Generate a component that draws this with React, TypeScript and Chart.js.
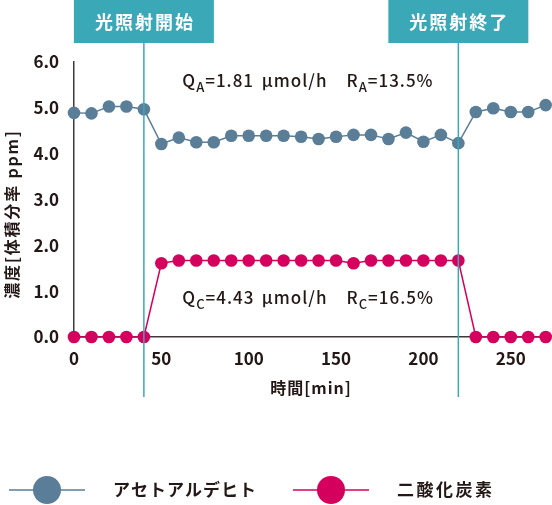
import { useEffect, useRef } from "react";
import { Chart, registerables } from "chart.js";

Chart.register(...registerables);

// time [min]
const times = [0, 10, 20, 30, 40, 50, 60, 70, 80, 90, 100, 110, 120, 130, 140, 150, 160, 170, 180, 190, 200, 210, 220, 230, 240, 250, 260, 270];
// アセトアルデヒト [ppm]
const acetaldehyde = [4.89, 4.88, 5.03, 5.03, 4.97, 4.21, 4.35, 4.25, 4.25, 4.39, 4.39, 4.39, 4.39, 4.37, 4.32, 4.37, 4.41, 4.41, 4.32, 4.46, 4.26, 4.41, 4.23, 4.91, 4.99, 4.91, 4.91, 5.06];
// 二酸化炭素 [ppm]
const co2 = [0, 0, 0, 0, 0, 1.61, 1.67, 1.67, 1.67, 1.67, 1.67, 1.67, 1.67, 1.67, 1.67, 1.67, 1.61, 1.67, 1.67, 1.67, 1.67, 1.67, 1.67, 0, 0, 0, 0, 0];

const seriesNames = ["アセトアルデヒト", "二酸化炭素"];
const xTicks = [0, 50, 100, 150, 200, 250];
const yTicks = [0, 1, 2, 3, 4, 5, 6];

const markerTimes = [40, 220];
const markerLabels = ["光照射開始", "光照射終了"];

// [text, subscript?] pieces, grouped; each group placed at a (time, ppm) position
const notes = [
  { at: [62, 5.45], groups: [[["Q", 0], ["A", 1], ["=1.81", 0]], [["μmol/h", 0]], [["R", 0], ["A", 1], ["=13.5%", 0]]], gx: [62, 107.5, 156] },
  { at: [62, 0.72], groups: [[["Q", 0], ["C", 1], ["=4.43", 0]], [["μmol/h", 0]], [["R", 0], ["C", 1], ["=16.5%", 0]]], gx: [62, 107.5, 156] },
];

const INK = "#231815";
const TEAL = "#3aa8b7";
const JP = "'Noto Sans CJK JP', 'Noto Sans', sans-serif";

const overlay = {
  id: "overlay",
  afterDatasetsDraw(chart: any) {
    const { ctx, scales } = chart;
    const x = scales.x;
    const y = scales.y;
    ctx.save();

    // irradiation markers
    markerTimes.forEach((t, i) => {
      const px = x.getPixelForValue(t);
      ctx.strokeStyle = TEAL;
      ctx.lineWidth = 1.5;
      ctx.beginPath();
      ctx.moveTo(px, 40);
      ctx.lineTo(px, 397);
      ctx.stroke();
      ctx.fillStyle = TEAL;
      ctx.fillRect(px - 70, 0, 140, 43);
      ctx.fillStyle = "#fff";
      ctx.font = `700 18px ${JP}`;
      (ctx as any).letterSpacing = "2px";
      ctx.textAlign = "left";
      ctx.textBaseline = "middle";
      const w = ctx.measureText(markerLabels[i]).width - 2;
      ctx.fillText(markerLabels[i], px - w / 2, 22);
    });
    (ctx as any).letterSpacing = "0px";

    // rate notes
    ctx.fillStyle = INK;
    ctx.textAlign = "left";
    ctx.textBaseline = "alphabetic";
    notes.forEach((n) => {
      const base = y.getPixelForValue(n.at[1]);
      n.groups.forEach((g, gi) => {
        let cx = x.getPixelForValue(n.gx[gi]);
        g.forEach(([txt, sub]) => {
          ctx.font = sub ? `500 13px ${JP}` : `500 17px ${JP}`;
          (ctx as any).letterSpacing = "1px";
          ctx.fillText(txt as string, cx, base + (sub ? 5 : 0));
          cx += ctx.measureText(txt as string).width;
        });
      });
    });

    // axis titles
    ctx.font = `700 16px ${JP}`;
    ctx.textAlign = "left";
    ctx.textBaseline = "middle";
    (ctx as any).letterSpacing = "1px";
    const xt = "時間[min]";
    ctx.fillText(xt, 311 - ctx.measureText(xt).width / 2, 388);
    (ctx as any).letterSpacing = "1.8px";
    const yt = "濃度[体積分率 ppm]";
    const yw = ctx.measureText(yt).width;
    ctx.save();
    ctx.translate(12, 214);
    ctx.rotate(-Math.PI / 2);
    ctx.fillText(yt, -yw / 2, 0);
    ctx.restore();

    // legend
    const items = [
      { x0: 9, x1: 85, cx: 47, tx: 113, ls: "1px" },
      { x0: 293, x1: 369, cx: 331, tx: 397, ls: "2.5px" },
    ];
    chart.data.datasets.forEach((ds: any, i: number) => {
      const it = items[i];
      const ly = 490;
      ctx.strokeStyle = ds.borderColor;
      ctx.lineWidth = 1.5;
      ctx.beginPath();
      ctx.moveTo(it.x0, ly);
      ctx.lineTo(it.x1, ly);
      ctx.stroke();
      ctx.fillStyle = ds.pointBackgroundColor;
      ctx.beginPath();
      ctx.arc(it.cx, ly, 14, 0, Math.PI * 2);
      ctx.fill();
      ctx.fillStyle = INK;
      ctx.font = `700 17px ${JP}`;
      (ctx as any).letterSpacing = it.ls;
      ctx.textAlign = "left";
      ctx.fillText(ds.label, it.tx, ly);
    });
    (ctx as any).letterSpacing = "0px";
    ctx.restore();
  },
};

export default function App() {
  const canvasRef = useRef<HTMLCanvasElement | null>(null);
  useEffect(() => {
    if (!canvasRef.current) return;
    const ctx = canvasRef.current.getContext("2d");
    if (!ctx) return;
    const mk = (label: string, values: number[], color: string) => ({
      label,
      data: times.map((t, i) => ({ x: t, y: values[i] })),
      borderColor: color,
      backgroundColor: color,
      pointBackgroundColor: color,
      pointBorderWidth: 0,
      pointRadius: 6.3,
      borderWidth: 1.5,
      clip: false as const,
    });
    const chart = new Chart(ctx, {
      type: "line",
      data: {
        datasets: [
          mk(seriesNames[0], acetaldehyde, "#5a7e97"),
          mk(seriesNames[1], co2, "#d5005e"),
        ],
      },
      options: {
        animation: false,
        responsive: false,
        devicePixelRatio: 1,
        layout: { padding: { top: 62, right: 6, left: 0, bottom: 0 } },
        plugins: { legend: { display: false }, tooltip: { enabled: false } },
        scales: {
          x: {
            type: "linear",
            min: 0,
            max: 270,
            grid: { display: false, drawTicks: false },
            border: { display: true, color: "#3e3a39", width: 1.5 },
            afterFit: (s: any) => { s.height = 168; },
            afterBuildTicks: (s: any) => { s.ticks = xTicks.map((v) => ({ value: v })); },
            ticks: { color: INK, padding: 11, maxRotation: 0, font: { family: JP, size: 17, weight: 700 } },
          },
          y: {
            min: 0,
            max: 6,
            grid: { display: false, drawTicks: false },
            border: { display: true, color: "#3e3a39", width: 1.5 },
            afterFit: (s: any) => { s.width = 74; },
            afterBuildTicks: (s: any) => { s.ticks = yTicks.map((v) => ({ value: v })); },
            ticks: { color: INK, padding: 15, callback: (v: any) => Number(v).toFixed(1), font: { family: JP, size: 17, weight: 700 } },
          },
        },
      },
      plugins: [overlay],
    });
    return () => chart.destroy();
  }, []);
  return (
    <div style={{ position: "absolute", left: 0, top: 0, width: 552, height: 505, background: "#fff" }}>
      <canvas ref={canvasRef} width={552} height={505} style={{ width: 552, height: 505 }} />
    </div>
  );
}
